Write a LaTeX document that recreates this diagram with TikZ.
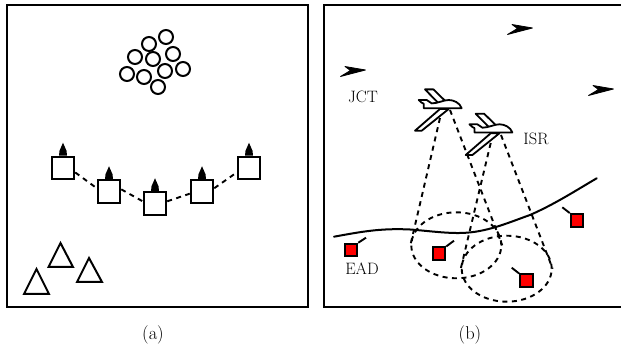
\documentclass[tikz,border=0pt]{standalone}
\usetikzlibrary{shapes.geometric}
\tikzset{
  x=1pt,y=-1pt,
  frame/.style={draw=black,line width=2.1pt,line join=miter},
  ball/.style={circle,draw=black,line width=2pt,minimum size=14pt,inner sep=0pt},
  unit/.style={rectangle,draw=black,line width=2pt,minimum size=22.5pt,inner sep=0pt,fill=white},
  tri/.style={draw=black,line width=2pt,line join=miter},
  link/.style={line width=1.9pt,dash pattern=on 5pt off 4.5pt},
  zone/.style={ellipse,draw=black,line width=1.9pt,dash pattern=on 5pt off 4.5pt,minimum width=90pt,minimum height=66pt,inner sep=0pt},
  target/.style={rectangle,draw=black,line width=2pt,fill=red,minimum size=12.5pt,inner sep=0pt},
  stub/.style={line width=1.9pt},
  lab/.style={font=\fontsize{16.5}{18}\selectfont,text=black,inner sep=0pt},
  captext/.style={font=\fontsize{18.5}{20}\selectfont,text=black,inner sep=0pt},
  pics/jet/.style={code={\filldraw[black,line width=0.8pt,line join=round] (-0.5,0)--(-21,-3.5)--(-15.5,0.5)--(-25.5,6.5)--cycle;}},
  pics/uav/.style={code={
    \begin{scope}[line width=1.8pt,line join=round,fill=white,draw=black]
      \filldraw (-21.7,1.3)--(-46.7,23)--(-40,23)--(-13,1.3)--cycle;
      \filldraw (-15.7,-6)--(-28.3,-18.3)--(-36.7,-18.3)--(-23,-4.3)--cycle;
      \filldraw (0,0.5) .. controls (-2,-5) and (-8,-7.7) .. (-13,-7.7) .. controls (-18,-7.7) and (-24,-4.3) .. (-30,-4.3)
        -- (-35,-7.7) -- (-43,-7.7) -- (-40,-5) -- (-38,-4) -- (-38,0.5) -- cycle;
    \end{scope}}},
}
\begin{document}
\begin{tikzpicture}
\useasboundingbox (0,0) rectangle (621,352);
% panel frames
\draw[frame] (7,5) rectangle (308,307);
\draw[frame] (621,5) -- (324,5) -- (324,307) -- (621,307);
% circles
\foreach \n/\px/\py in {b1/166/37,b2/149/44,b3/135/57,b4/153/59,b5/173/54,b6/127/74,b7/144/77,b8/165/71,b9/183/69,b10/158/87}
  \node[ball] (\n) at (\px,\py) {};
% squares
\node[unit] (s1) at (63,168) {};
\node[unit] (s2) at (109,191.5) {};
\node[unit] (s3) at (155,203.5) {};
\node[unit] (s4) at (202,191.5) {};
\node[unit] (s5) at (249,168) {};
\draw[link] (s1.-20) -- (s2.165);
\draw[link] (s2.10) -- (s3.170);
\draw[link] (s3.10) -- (s4.190);
\draw[link] (s4.15) -- (s5.200);
\foreach \s in {s1,s2,s3,s4,s5}
  \fill[black] ([xshift=-4pt]\s.north) -- ([xshift=-3.5pt,yshift=5pt]\s.north) -- ([yshift=13pt]\s.north) -- ([xshift=3.5pt,yshift=5pt]\s.north) -- ([xshift=4pt]\s.north) -- cycle;
% triangles
\draw[tri] (60.5,243) -- (48.5,267) -- (73,267) -- cycle;
\draw[tri] (89,258) -- (77,282) -- (102,282) -- cycle;
\draw[tri] (36.5,269) -- (24,294) -- (49,294) -- cycle;
% captions
\node[captext] (capa) at (153,335) {(a)};
\node[captext] (capb) at (470,335) {(b)};
% fighters
\pic at (533,28) {jet};
\pic at (366,70) {jet};
\pic at (614,89) {jet};
% zones
\node[zone] (z1) at (456.3,245.3) {};
\node[zone] (z2) at (506.7,268.7) {};
\coordinate (p1l) at (440,118);
\coordinate (p1r) at (450,110);
\coordinate (p2l) at (490.7,143);
\coordinate (p2r) at (501,135);
\draw[link] (p1l) -- (z1.west);
\draw[link] (p1r) -- (z1.east);
\draw[link] (p2l) -- (z2.west);
\draw[link] (p2r) -- (z2.east);
% UAVs
\pic at (461.7,107.7) {uav};
\pic at (512.4,132) {uav};
% front line
\draw[line width=2pt,line cap=round] (334,236.7) .. controls (360,232) and (380,228) .. (410,229.5) .. controls (430,231) and (450,234) .. (466.7,232.7) .. controls (490,231) and (510,222) .. (530,215) .. controls (555,204) and (575,191) .. (596.7,178.3);
% targets
\node[target] (t1) at (351,250) {};
\node[target] (t2) at (439,253.7) {};
\node[target] (t3) at (526.3,280.7) {};
\node[target] (t4) at (577,220.3) {};
\coordinate (a1) at (366,237.7);
\coordinate (a2) at (454,240.7);
\coordinate (a3) at (511.7,267.7);
\coordinate (a4) at (562.3,207.3);
\draw[stub] (t1.north east) -- (a1);
\draw[stub] (t2.north east) -- (a2);
\draw[stub] (t3.north west) -- (a3);
\draw[stub] (t4.north west) -- (a4);
% labels
\node[lab] (jct) at (363,97) {JCT};
\node[lab] (isr) at (536,138.5) {ISR};
\node[lab] (ead) at (362,269) {EAD};
\end{tikzpicture}
\end{document}
